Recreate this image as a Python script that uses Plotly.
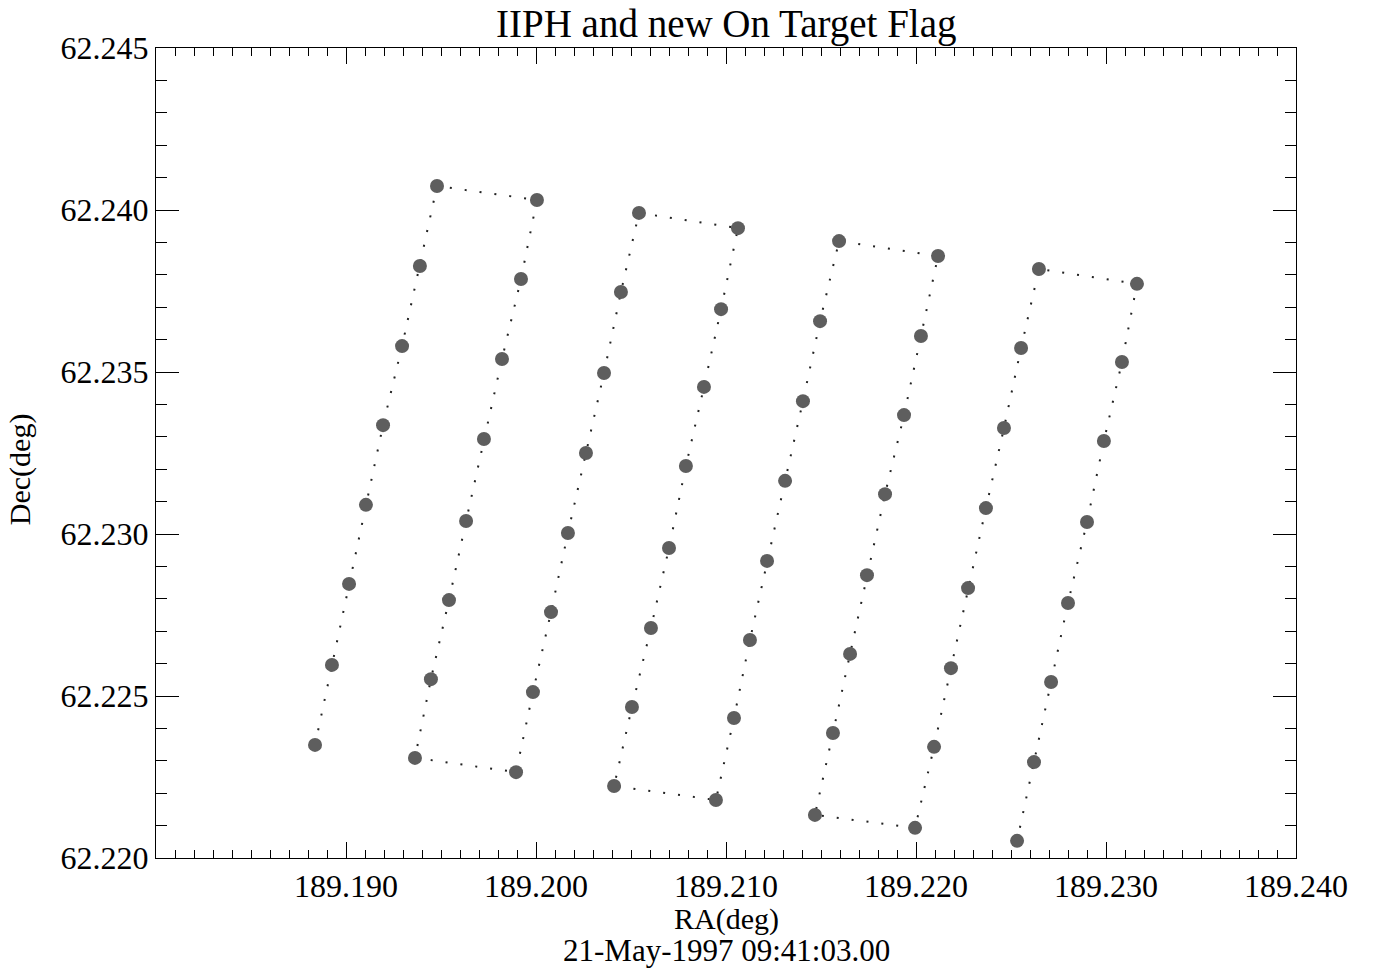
import plotly.graph_objects as go

# Pointing positions (dwell centres) in scan order
ra_deg = [
    189.18837, 189.18926, 189.19016, 189.19105, 189.19195, 189.19295, 189.19389, 189.19479,
    189.20005, 189.19921, 189.19821, 189.19726, 189.19632, 189.19542, 189.19447, 189.19363,
    189.19895, 189.19984, 189.20079, 189.20168, 189.20263, 189.20358, 189.20447, 189.20542,
    189.21063, 189.20974, 189.20884, 189.20789, 189.20700, 189.20605, 189.20505, 189.20411,
    189.20947, 189.21042, 189.21126, 189.21216, 189.21311, 189.21405, 189.21495, 189.21595,
    189.22116, 189.22026, 189.21937, 189.21837, 189.21742, 189.21653, 189.21563, 189.21468,
    189.21995, 189.22095, 189.22184, 189.22274, 189.22368, 189.22463, 189.22553, 189.22647,
    189.23163, 189.23084, 189.22989, 189.22900, 189.22800, 189.22711, 189.22621, 189.22532,
]
dec_deg = [
    62.22349, 62.22596, 62.22846, 62.23090, 62.23336, 62.23580, 62.23827, 62.24074,
    62.24031, 62.23787, 62.23540, 62.23293, 62.23040, 62.22796, 62.22552, 62.22309,
    62.22265, 62.22512, 62.22759, 62.23003, 62.23250, 62.23497, 62.23747, 62.23991,
    62.23944, 62.23694, 62.23454, 62.23210, 62.22957, 62.22710, 62.22466, 62.22222,
    62.22179, 62.22432, 62.22673, 62.22917, 62.23164, 62.23410, 62.23657, 62.23904,
    62.23858, 62.23611, 62.23367, 62.23123, 62.22873, 62.22630, 62.22386, 62.22133,
    62.22093, 62.22343, 62.22586, 62.22833, 62.23080, 62.23327, 62.23574, 62.23818,
    62.23772, 62.23531, 62.23287, 62.23037, 62.22787, 62.22543, 62.22296, 62.22053,
]

x_tick_vals = [189.19, 189.20, 189.21, 189.22, 189.23, 189.24]
x_tick_text = ["189.190", "189.200", "189.210", "189.220", "189.230", "189.240"]
y_tick_vals = [62.220, 62.225, 62.230, 62.235, 62.240, 62.245]
y_tick_text = ["62.220", "62.225", "62.230", "62.235", "62.240", "62.245"]

title_text = "IIPH and new On Target Flag"
x_title = "RA(deg)"
date_text = "21-May-1997 09:41:03.00"
y_title = "Dec(deg)"

FONT = "Liberation Serif, Times New Roman, serif"

fig = go.Figure()
fig.add_trace(go.Scatter(
    x=ra_deg, y=dec_deg, mode="lines",
    line=dict(color="#222222", width=2, dash="2px,13px"),
    hoverinfo="skip", showlegend=False,
))
fig.add_trace(go.Scatter(
    x=ra_deg, y=dec_deg, mode="markers",
    marker=dict(size=14, color="#5e5e5e", line=dict(width=0)),
    showlegend=False,
))

axis_common = dict(
    showgrid=False, zeroline=False,
    showline=True, linecolor="black", linewidth=1,
    mirror="ticks", ticks="inside", tickcolor="black", tickwidth=1,
    tickfont=dict(family=FONT, size=32, color="black"),
)

fig.update_xaxes(
    range=[189.18, 189.24], tickvals=x_tick_vals, ticktext=x_tick_text,
    ticklen=16,
    minor=dict(tick0=189.18, dtick=0.001, ticks="inside", ticklen=8,
               tickcolor="black", tickwidth=1, showgrid=False),
    **axis_common,
)
fig.update_yaxes(
    range=[62.220, 62.245], tickvals=y_tick_vals, ticktext=y_tick_text,
    ticklen=23,
    minor=dict(tick0=62.22, dtick=0.001, ticks="inside", ticklen=11,
               tickcolor="black", tickwidth=1, showgrid=False),
    **axis_common,
)

fig.update_layout(
    width=1379, height=976,
    margin=dict(l=156, r=83, t=48, b=118),
    paper_bgcolor="white", plot_bgcolor="white",
    font=dict(family=FONT, color="black"),
    showlegend=False,
    annotations=[
        dict(text=title_text, xref="paper", yref="paper", x=0.5, y=1.0296,
             xanchor="center", yanchor="middle", showarrow=False,
             font=dict(family=FONT, size=39, color="black")),
        dict(text=x_title, xref="paper", yref="paper", x=0.5, y=-0.0755,
             xanchor="center", yanchor="middle", showarrow=False,
             font=dict(family=FONT, size=30, color="black")),
        dict(text=date_text, xref="paper", yref="paper", x=0.5, y=-0.1136,
             xanchor="center", yanchor="middle", showarrow=False,
             font=dict(family=FONT, size=31, color="black")),
        dict(text=y_title, xref="paper", yref="paper", x=-0.1193, y=0.48,
             xanchor="center", yanchor="middle", showarrow=False, textangle=-90,
             font=dict(family=FONT, size=30, color="black")),
    ],
)

fig.write_html("out.html", config={"displayModeBar": False},
               post_script="document.body.style.margin='0';")
